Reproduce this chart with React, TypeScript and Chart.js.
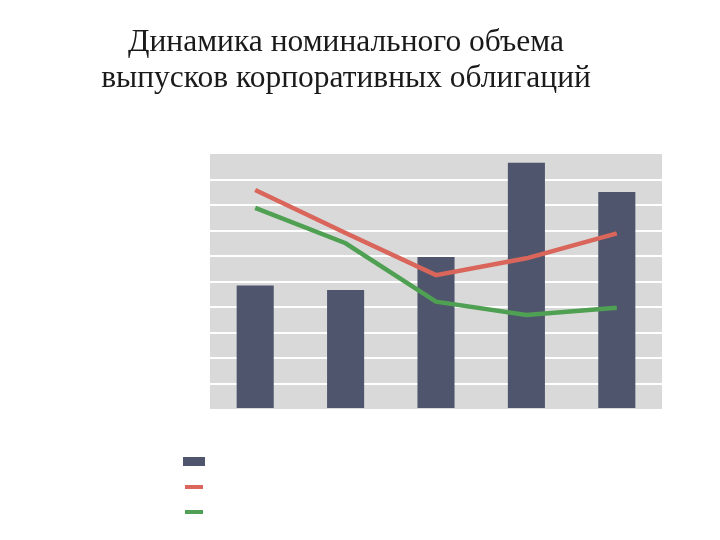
import React, { useEffect, useRef } from "react";
import { Chart, registerables } from "chart.js";

Chart.register(...registerables);

const categories = ["1", "2", "3", "4", "5"];
const barValues = [4.84, 4.67, 5.96, 9.66, 8.51];
const redValues = [8.59, 6.9, 5.25, 5.91, 6.89];
const greenValues = [7.89, 6.5, 4.21, 3.69, 3.97];
const seriesNames = ["", "", ""];
const titleLines = ["Динамика номинального объема", "выпусков корпоративных облигаций"];

const BAR = "#4E556C";
const RED = "#D9655B";
const GREEN = "#4FA052";

const plotBg = {
  id: "plotBg",
  beforeDraw(chart: any) {
    const { ctx, chartArea } = chart;
    if (!chartArea) return;
    ctx.save();
    ctx.fillStyle = "#D9D9D9";
    ctx.fillRect(chartArea.left, chartArea.top, chartArea.right - chartArea.left, chartArea.bottom - chartArea.top);
    ctx.restore();
  },
};

export default function App() {
  const ref = useRef<HTMLCanvasElement | null>(null);

  useEffect(() => {
    document.body.style.margin = "0";
    if (!ref.current) return;
    const chart = new Chart(ref.current, {
      type: "bar",
      data: {
        labels: categories,
        datasets: [
          {
            type: "line",
            label: seriesNames[1],
            data: redValues,
            borderColor: RED,
            backgroundColor: RED,
            borderWidth: 4.5,
            pointRadius: 0,
            tension: 0,
            order: 0,
          } as any,
          {
            type: "line",
            label: seriesNames[2],
            data: greenValues,
            borderColor: GREEN,
            backgroundColor: GREEN,
            borderWidth: 4.5,
            pointRadius: 0,
            tension: 0,
            order: 0,
          } as any,
          {
            type: "bar",
            label: seriesNames[0],
            data: barValues,
            backgroundColor: BAR,
            barPercentage: 0.41,
            categoryPercentage: 1,
            order: 1,
          },
        ],
      },
      plugins: [plotBg],
      options: {
        animation: false,
        responsive: false,
        layout: { padding: { left: 210, right: 58, top: 154, bottom: 131 } },
        plugins: {
          legend: { display: false },
          title: { display: false },
          tooltip: { enabled: false },
        },
        scales: {
          x: {
            ticks: { display: false },
            grid: { display: false, drawTicks: false },
            border: { display: false },
          },
          y: {
            min: 0,
            max: 10,
            ticks: { display: false, stepSize: 1 },
            grid: {
              drawTicks: false,
              lineWidth: 2,
              color: (c: any) => (c.tick && (c.tick.value === 0 || c.tick.value === 10) ? "rgba(0,0,0,0)" : "#FFFFFF"),
            },
            border: { display: false },
          },
        },
      },
    });
    return () => chart.destroy();
  }, []);

  const legendItems = [
    { color: BAR, kind: "box", top: 457 },
    { color: RED, kind: "line", top: 485 },
    { color: GREEN, kind: "line", top: 510 },
  ];

  return (
    <div style={{ position: "relative", width: 720, height: 540, background: "#fff", overflow: "hidden" }}>
      <canvas ref={ref} width={720} height={540} style={{ position: "absolute", left: 0, top: 0, width: 720, height: 540 }} />
      <div
        style={{
          position: "absolute",
          left: -14,
          top: 23,
          width: 720,
          textAlign: "center",
          fontFamily: "'Liberation Serif', 'Times New Roman', serif",
          fontSize: 31.5,
          lineHeight: "36px",
          color: "#1a1a1a",
        }}
      >
        {titleLines.map((t, i) => (
          <div key={i}>{t}</div>
        ))}
      </div>
      {legendItems.map((it, i) => (
        <div
          key={i}
          style={{
            position: "absolute",
            left: it.kind === "box" ? 183 : 185,
            top: it.top,
            width: it.kind === "box" ? 22 : 18,
            height: it.kind === "box" ? 9 : 4,
            background: it.color,
          }}
          title={seriesNames[i]}
        />
      ))}
    </div>
  );
}
